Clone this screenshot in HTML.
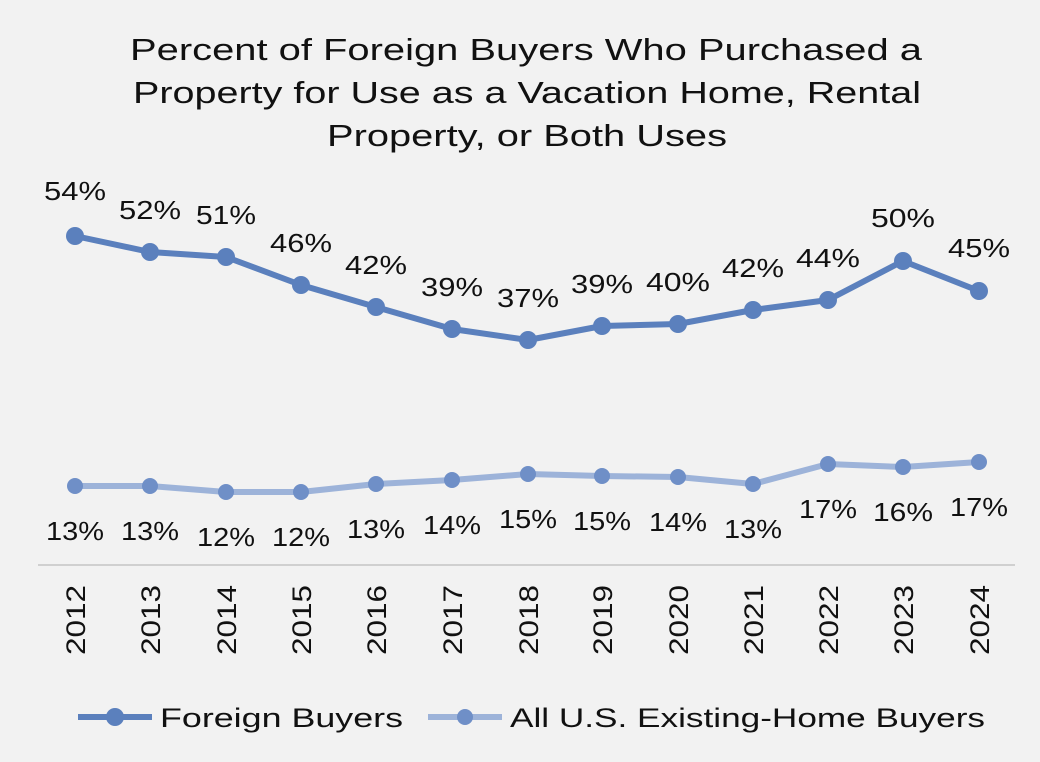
<!DOCTYPE html>
<html><head><meta charset="utf-8"><style>
html,body{margin:0;padding:0;background:#f2f2f2;}
svg{display:block;font-family:"Liberation Sans",sans-serif;}
</style></head><body>
<svg width="1040" height="762" viewBox="0 0 1040 762">
<rect width="1040" height="762" fill="#f2f2f2"/>
<g font-size="31" fill="#111" text-anchor="middle" lengthAdjust="spacingAndGlyphs">
<text x="526" y="60" textLength="792" lengthAdjust="spacingAndGlyphs">Percent of Foreign Buyers Who Purchased a</text>
<text x="527" y="103" textLength="788" lengthAdjust="spacingAndGlyphs">Property for Use as a Vacation Home, Rental</text>
<text x="527" y="146" textLength="400" lengthAdjust="spacingAndGlyphs">Property, or Both Uses</text>
</g>
<line x1="38" y1="565" x2="1015" y2="565" stroke="#d0d0d0" stroke-width="2"/>
<polyline fill="none" stroke="#9db3d9" stroke-width="6" stroke-linejoin="round" points="75,486 150,486 226,492 301,492 376,484 452,480 528,474 602,476 678,477 753,484 828,464 903,467 979,462"/>
<g fill="#5b80bd">
<polyline fill="none" stroke="#5b80bd" stroke-width="6" stroke-linejoin="round" points="75,236 150,252 226,257 301,285 376,307 452,329 528,340 602,326 678,324 753,310 828,300 903,261 979,291"/>
<circle cx="75" cy="236" r="9"/><circle cx="150" cy="252" r="9"/><circle cx="226" cy="257" r="9"/><circle cx="301" cy="285" r="9"/><circle cx="376" cy="307" r="9"/><circle cx="452" cy="329" r="9"/><circle cx="528" cy="340" r="9"/><circle cx="602" cy="326" r="9"/><circle cx="678" cy="324" r="9"/><circle cx="753" cy="310" r="9"/><circle cx="828" cy="300" r="9"/><circle cx="903" cy="261" r="9"/><circle cx="979" cy="291" r="9"/>
</g>
<g fill="#6f8fc7">
<circle cx="75" cy="486" r="8"/><circle cx="150" cy="486" r="8"/><circle cx="226" cy="492" r="8"/><circle cx="301" cy="492" r="8"/><circle cx="376" cy="484" r="8"/><circle cx="452" cy="480" r="8"/><circle cx="528" cy="474" r="8"/><circle cx="602" cy="476" r="8"/><circle cx="678" cy="477" r="8"/><circle cx="753" cy="484" r="8"/><circle cx="828" cy="464" r="8"/><circle cx="903" cy="467" r="8"/><circle cx="979" cy="462" r="8"/>
</g>
<g font-size="26" fill="#111" text-anchor="middle">
<text x="75" y="200" textLength="62" lengthAdjust="spacingAndGlyphs">54%</text><text x="150" y="219" textLength="62" lengthAdjust="spacingAndGlyphs">52%</text><text x="226" y="224" textLength="60" lengthAdjust="spacingAndGlyphs">51%</text><text x="301" y="252" textLength="62" lengthAdjust="spacingAndGlyphs">46%</text><text x="376" y="274" textLength="62" lengthAdjust="spacingAndGlyphs">42%</text><text x="452" y="296" textLength="62" lengthAdjust="spacingAndGlyphs">39%</text><text x="528" y="307" textLength="62" lengthAdjust="spacingAndGlyphs">37%</text><text x="602" y="293" textLength="62" lengthAdjust="spacingAndGlyphs">39%</text><text x="678" y="291" textLength="64" lengthAdjust="spacingAndGlyphs">40%</text><text x="753" y="277" textLength="62" lengthAdjust="spacingAndGlyphs">42%</text><text x="828" y="267" textLength="64" lengthAdjust="spacingAndGlyphs">44%</text><text x="903" y="227" textLength="64" lengthAdjust="spacingAndGlyphs">50%</text><text x="979" y="257" textLength="62" lengthAdjust="spacingAndGlyphs">45%</text>
<text x="75" y="540" textLength="58" lengthAdjust="spacingAndGlyphs">13%</text><text x="150" y="540" textLength="58" lengthAdjust="spacingAndGlyphs">13%</text><text x="226" y="546" textLength="58" lengthAdjust="spacingAndGlyphs">12%</text><text x="301" y="546" textLength="58" lengthAdjust="spacingAndGlyphs">12%</text><text x="376" y="538" textLength="58" lengthAdjust="spacingAndGlyphs">13%</text><text x="452" y="534" textLength="58" lengthAdjust="spacingAndGlyphs">14%</text><text x="528" y="528" textLength="58" lengthAdjust="spacingAndGlyphs">15%</text><text x="602" y="530" textLength="58" lengthAdjust="spacingAndGlyphs">15%</text><text x="678" y="531" textLength="58" lengthAdjust="spacingAndGlyphs">14%</text><text x="753" y="538" textLength="58" lengthAdjust="spacingAndGlyphs">13%</text><text x="828" y="518" textLength="58" lengthAdjust="spacingAndGlyphs">17%</text><text x="903" y="521" textLength="60" lengthAdjust="spacingAndGlyphs">16%</text><text x="979" y="516" textLength="58" lengthAdjust="spacingAndGlyphs">17%</text>
</g>
<g font-size="27" fill="#111" text-anchor="end">
<text transform="translate(85,585) rotate(-90)" textLength="70" lengthAdjust="spacingAndGlyphs">2012</text>
<text transform="translate(160,585) rotate(-90)" textLength="70" lengthAdjust="spacingAndGlyphs">2013</text>
<text transform="translate(236,585) rotate(-90)" textLength="70" lengthAdjust="spacingAndGlyphs">2014</text>
<text transform="translate(311,585) rotate(-90)" textLength="70" lengthAdjust="spacingAndGlyphs">2015</text>
<text transform="translate(386,585) rotate(-90)" textLength="70" lengthAdjust="spacingAndGlyphs">2016</text>
<text transform="translate(462,585) rotate(-90)" textLength="70" lengthAdjust="spacingAndGlyphs">2017</text>
<text transform="translate(538,585) rotate(-90)" textLength="70" lengthAdjust="spacingAndGlyphs">2018</text>
<text transform="translate(612,585) rotate(-90)" textLength="70" lengthAdjust="spacingAndGlyphs">2019</text>
<text transform="translate(688,585) rotate(-90)" textLength="70" lengthAdjust="spacingAndGlyphs">2020</text>
<text transform="translate(763,585) rotate(-90)" textLength="70" lengthAdjust="spacingAndGlyphs">2021</text>
<text transform="translate(838,585) rotate(-90)" textLength="70" lengthAdjust="spacingAndGlyphs">2022</text>
<text transform="translate(913,585) rotate(-90)" textLength="70" lengthAdjust="spacingAndGlyphs">2023</text>
<text transform="translate(989,585) rotate(-90)" textLength="70" lengthAdjust="spacingAndGlyphs">2024</text>
</g>
<line x1="78" y1="717" x2="152" y2="717" stroke="#5b80bd" stroke-width="6"/>
<circle cx="115" cy="717" r="9" fill="#5b80bd"/>
<text x="160" y="727" font-size="27" fill="#111" textLength="243" lengthAdjust="spacingAndGlyphs">Foreign Buyers</text>
<line x1="428" y1="717" x2="502" y2="717" stroke="#9db3d9" stroke-width="6"/>
<circle cx="465" cy="717" r="8" fill="#6f8fc7"/>
<text x="510" y="727" font-size="27" fill="#111" textLength="475" lengthAdjust="spacingAndGlyphs">All U.S. Existing-Home Buyers</text>
</svg>
</body></html>
